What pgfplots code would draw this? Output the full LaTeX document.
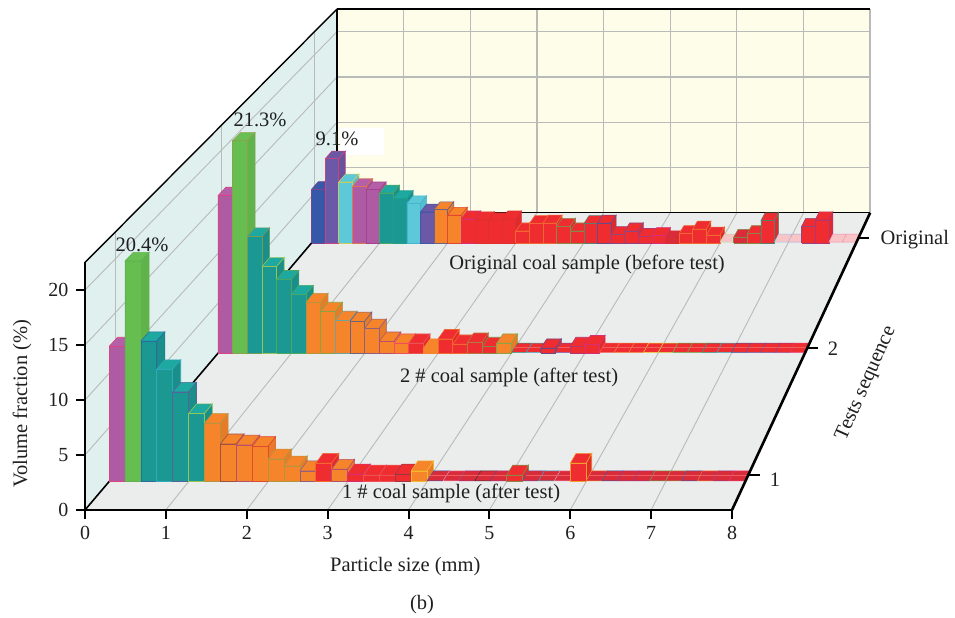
\documentclass[border=0pt]{standalone}
\usepackage{fontspec}
\setmainfont{Liberation Serif}
\usepackage{pgfplots}
\usepackage{pgfplotstable}
\pgfplotsset{compat=1.18}
% fills
\definecolor{cM}{HTML}{AE5BA3}\definecolor{cMTop}{HTML}{B45FA8}
\definecolor{cG}{HTML}{66BD50}\definecolor{cGTop}{HTML}{69BF53}
\definecolor{cT}{HTML}{1C9892}\definecolor{cTTop}{HTML}{1DA8A0}
\definecolor{cO}{HTML}{F6842B}\definecolor{cOTop}{HTML}{F6842B}
\definecolor{cR}{HTML}{EF2D30}\definecolor{cRTop}{HTML}{EF2D30}
\definecolor{cB}{HTML}{3559A8}\definecolor{cBTop}{HTML}{3559A8}
\definecolor{cP}{HTML}{6B58A6}\definecolor{cPTop}{HTML}{6B58A6}
\definecolor{cC}{HTML}{5DC8D8}\definecolor{cCTop}{HTML}{5DC8D8}
\definecolor{cD}{HTML}{DA2B3A}\definecolor{cDTop}{HTML}{DA2B3A}
\definecolor{cL}{HTML}{F8C4C6}\definecolor{cLTop}{HTML}{F8C4C6}
% edges
\definecolor{ePk}{HTML}{EE3A70}\definecolor{eGn}{HTML}{5FAF4E}
\definecolor{eOl}{HTML}{9A9A45}\definecolor{eBl}{HTML}{3456A6}
\definecolor{eCy}{HTML}{35B0C8}\definecolor{ePu}{HTML}{6A4FA0}
\definecolor{eYl}{HTML}{F0D030}\definecolor{eLm}{HTML}{C8D840}
\definecolor{eOr}{HTML}{F08030}\definecolor{eRd}{HTML}{D8302F}
\definecolor{eBr}{HTML}{7A3B50}\definecolor{ePl}{HTML}{9A3A8A}
\definecolor{eMg}{HTML}{D0308F}\definecolor{eBk}{HTML}{40303A}
\definecolor{eTe}{HTML}{1FA08A}\definecolor{eLr}{HTML}{EE6060}
\definecolor{ePg}{HTML}{B8DDA0}\definecolor{ePb}{HTML}{9CC8EE}
\definecolor{ePp}{HTML}{A8A8E0}\definecolor{ePn}{HTML}{F090B0}
% walls
\definecolor{wallL}{HTML}{DFF0EF}
\definecolor{wallB}{HTML}{FEFDE9}
\definecolor{floorC}{HTML}{EBECEC}
\definecolor{gridC}{HTML}{B9BBB9}

\pgfplotstableread{
x v f e
0.0 12.5 cM ePk
0.2 20.4 cG eGn
0.4 13.0 cT eBl
0.6 10.4 cT eCy
0.8 8.3 cT ePu
1.0 6.3 cT eLm
1.2 5.4 cO eOl
1.4 3.5 cO eBr
1.6 3.4 cO ePl
1.8 3.25 cO eRd
2.0 2.1 cO eOl
2.2 1.45 cO eOl
2.4 1.0 cO ePu
2.6 1.7 cR eOr
2.8 1.15 cO ePl
3.0 0.7 cR eMg
3.2 0.6 cR eLr
3.4 0.6 cR eLr
3.6 0.7 cR eBr
3.8 1.0 cO eYl
4.0 0.08 cD eBl
4.2 0.08 cD ePn
4.4 0.08 cD ePl
4.6 0.08 cD eBk
4.8 0.08 cD ePl
5.0 0.6 cR eGn
5.2 0.08 cD ePu
5.4 0.08 cD eCy
5.6 0.08 cD ePn
5.8 1.7 cR eYl
6.0 0.08 cD eOr
6.2 0.08 cD eBl
6.4 0.08 cD ePl
6.6 0.08 cD ePl
6.8 0.08 cD eGn
7.0 0.08 cD eOl
7.2 0.08 cD eBl
7.4 0.08 cD eOr
7.6 0.08 cD ePl
7.8 0.08 cD ePk
}\seriesA

\pgfplotstableread{
x v f e
0.0 15.8 cM ePk
0.2 21.3 cG eOl
0.4 11.7 cT eOl
0.6 8.7 cT eLm
0.8 7.4 cT eGn
1.0 5.9 cT eGn
1.2 5.1 cO eOl
1.4 4.2 cO eGn
1.6 3.3 cO eCy
1.8 3.2 cO eBl
2.0 2.5 cO ePu
2.2 1.2 cO ePl
2.4 1.0 cO ePk
2.6 1.0 cR eLr
2.8 0.5 cO cO
3.0 1.45 cR eOr
3.2 0.9 cR eOr
3.4 1.1 cR eOl
3.6 0.67 cR eGn
3.8 1.0 cO eGn
4.0 0.08 cR eTe
4.2 0.08 cR eCy
4.4 0.5 cR eBl
4.6 0.08 cR ePu
4.8 0.67 cR ePl
5.0 0.85 cR eMg
5.2 0.08 cR eLr
5.4 0.08 cR eOr
5.6 0.08 cR eOr
5.8 0.08 cR eYl
6.0 0.08 cR eLm
6.2 0.08 cR eGn
6.4 0.08 cR eGn
6.6 0.08 cR eTe
6.8 0.08 cR eCy
7.0 0.08 cR eBl
7.2 0.08 cR ePu
7.4 0.08 cR ePu
7.6 0.08 cR ePl
7.8 0.08 cR ePk
}\seriesB

\pgfplotstableread{
x v f e
0.0 5.8 cB ePl
0.2 9.1 cP ePk
0.4 6.6 cC eYl
0.6 6.1 cM eOr
0.8 5.75 cM ePl
1.0 5.4 cT eGn
1.2 4.8 cT eTe
1.4 4.25 cC eCy
1.6 3.35 cP eBl
1.8 3.6 cO eBl
2.0 3.0 cO eRd
2.2 2.6 cR eMg
2.4 2.5 cR eRd
2.6 2.4 cR eRd
2.8 2.6 cR eRd
3.0 1.3 cR eOr
3.2 2.1 cR eOr
3.4 2.15 cR eOr
3.6 1.8 cR eGn
3.8 1.3 cR eGn
4.0 2.1 cR eTe
4.2 2.15 cR eBl
4.4 0.9 cR ePu
4.6 1.3 cR ePu
4.8 0.7 cR ePl
5.0 0.8 cR eMg
5.2 0.45 cD eRd
5.4 1.0 cR eOr
5.6 1.5 cR eOr
5.8 0.85 cR eOr
6.0 0.08 cL ePg
6.2 0.6 cD eGn
6.4 1.0 cR eGn
6.6 2.4 cR eTe
6.8 0.08 cL ePb
7.0 0.08 cL ePp
7.2 1.8 cR ePu
7.4 2.5 cR ePl
7.6 0.08 cL ePn
7.8 0.08 cL ePn
}\seriesC

% perspective onto the front plane: vanishing point and depth scales
\def\Vx{17.689}\def\Vz{153.27}
\newcommand\Start{\gdef\Poly{}}
\newcommand\Pt[3]{%
  \pgfmathsetmacro\PX{\Vx+(#3)*((#1)-\Vx)}%
  \pgfmathsetmacro\PZ{\Vz+(#3)*((#2)-\Vz)}%
  \xdef\Poly{\Poly (\PX,\PZ)}}
\newcommand\Emit[1]{\edef\Tmp{\noexpand\addplot[#1] coordinates {\Poly};}\Tmp}
\newcommand\Seg[7]{\Start\Pt{#2}{#3}{#4}\Pt{#5}{#6}{#7}\Emit{#1}}

\newcommand\DrawSeries[4]{% table, front scale, back scale, flat line colour
  \pgfplotsforeachungrouped \r in {0,...,39}{%
    \pgfplotstablegetelem{\r}{x}\of{#1}\let\BX\pgfplotsretval
    \pgfplotstablegetelem{\r}{v}\of{#1}\let\BV\pgfplotsretval
    \pgfplotstablegetelem{\r}{f}\of{#1}\let\BF\pgfplotsretval
    \pgfplotstablegetelem{\r}{e}\of{#1}\let\BE\pgfplotsretval
    \pgfmathsetmacro\BXR{\BX+0.2}%
    % top
    \Start\Pt{\BX}{\BV}{#2}\Pt{\BXR}{\BV}{#2}\Pt{\BXR}{\BV}{#3}\Pt{\BX}{\BV}{#3}\Pt{\BX}{\BV}{#2}%
    \pgfmathparse{\BV<0.1?1:0}%
    \ifnum\pgfmathresult=1
      \Emit{fill=\BF Top,draw=\BE,line width=0.5pt}%
      \pgfmathsetmacro\SM{0.5*(#2+#3)}%
      \Start\Pt{\BX}{\BV}{\SM}\Pt{\BXR}{\BV}{\SM}%
      \Emit{draw=#4,line width=0.7pt}%
    \else
      \Emit{fill=\BF Top,draw=\BE!70!\BF,line width=0.6pt}%
      % side
      \Start\Pt{\BXR}{0}{#2}\Pt{\BXR}{0}{#3}\Pt{\BXR}{\BV}{#3}\Pt{\BXR}{\BV}{#2}\Pt{\BXR}{0}{#2}%
      \Emit{fill=\BF!94!black,draw=\BE!70!\BF,line width=0.6pt}%
      % front
      \Start\Pt{\BX}{0}{#2}\Pt{\BXR}{0}{#2}\Pt{\BXR}{\BV}{#2}\Pt{\BX}{\BV}{#2}\Pt{\BX}{0}{#2}%
      \Emit{fill=\BF,draw=\BE!70!\BF,line width=0.6pt}%
    \fi
  }%
}

\begin{document}
\begin{tikzpicture}
\begin{axis}[
  scale only axis, width=647pt, height=247.5pt,
  xmin=0, xmax=8, ymin=0, ymax=22.5,
  clip=false,
  axis on top,
  axis x line=bottom, axis y line=left,
  axis line style={-,line width=2.6pt,black},
  xtick={0,1,...,8}, ytick={0,5,10,15,20},
  tick style={black,line width=2pt},
  major tick length=9pt,
  tick align=outside,
  every tick label/.append style={font=\fontsize{20}{22}\selectfont,text=black!88},
  xticklabel style={yshift=-4pt},
  yticklabel style={xshift=-4pt},
  /pgf/number format/assume math mode=true,
  xlabel={Particle size (mm)},
  ylabel={Volume fraction (\%)},
  xlabel style={at={(axis cs:3.96,-5.1)},anchor=center,font=\fontsize{20.5}{22}\selectfont,text=black!88},
  ylabel style={at={(axis cs:-0.779,9.64)},anchor=center,font=\fontsize{20.5}{22}\selectfont,text=black!88},
]
% walls and floor
\Start\Pt{0}{0}{1}\Pt{0}{22.5}{1}\Pt{0}{22.5}{0.8238}\Pt{0}{0}{0.8238}\Pt{0}{0}{1}\Emit{fill=wallL,draw=none}
\Start\Pt{0}{0}{0.8238}\Pt{8}{0}{0.8238}\Pt{8}{22.5}{0.8238}\Pt{0}{22.5}{0.8238}\Pt{0}{0}{0.8238}\Emit{fill=wallB,draw=none}
\Start\Pt{0}{0}{1}\Pt{8}{0}{1}\Pt{8}{0}{0.8238}\Pt{0}{0}{0.8238}\Pt{0}{0}{1}\Emit{fill=floorC,draw=none}
% grid on the floor
\pgfplotsforeachungrouped \k in {1,...,7}{\Seg{draw=gridC,line width=0.9pt}{\k}{0}{1}{\k}{0}{0.8238}}
% grid on the back wall
\pgfplotsforeachungrouped \k in {1,...,7}{\Seg{draw=gridC,line width=1.3pt}{\k}{0}{0.8238}{\k}{22.5}{0.8238}}
\Seg{draw=gridC,line width=1.2pt}{8}{0}{0.8238}{8}{22.5}{0.8238}
\pgfplotsforeachungrouped \k in {5,10,15,20}{\Seg{draw=gridC,line width=1.3pt}{0}{\k}{0.8238}{8}{\k}{0.8238}}
% grid on the left wall
\pgfplotsforeachungrouped \k in {5,10,15,20}{\Seg{draw=gridC,line width=0.9pt}{0}{\k}{1}{0}{\k}{0.8238}}
\Seg{draw=gridC,line width=0.9pt}{0}{0}{0.979}{0}{22.5}{0.979}
\Seg{draw=gridC,line width=0.9pt}{0}{0}{0.9045}{0}{22.5}{0.9045}
\Seg{draw=gridC,line width=0.9pt}{0}{0}{0.8393}{0}{22.5}{0.8393}
% white patch behind the 9.1% label
\addplot[fill=white,draw=none] coordinates {(3.153,34.73) (3.697,34.73) (3.697,32.27) (3.153,32.27) (3.153,34.73)};
% frame lines
\Seg{draw=black,line width=1.6pt}{0}{0}{1}{0}{0}{0.8238}
\Seg{draw=black,line width=1.4pt}{0}{22.5}{1}{0}{22.5}{0.8238}
\Seg{draw=black,line width=1.2pt}{0}{22.5}{0.8238}{8}{22.5}{0.8238}
\Seg{draw=black,line width=1.2pt}{0}{0}{0.8238}{0}{22.5}{0.8238}
\Seg{draw=black,line width=1pt}{0}{0}{0.8238}{8}{0}{0.8238}
% bars
\DrawSeries{\seriesC}{0.84164}{0.83689}{cL}
\DrawSeries{\seriesB}{0.90706}{0.9015}{eLr}
\DrawSeries{\seriesA}{0.98321}{0.97728}{eLr}
% right axis and its ticks
\Seg{draw=black,line width=2.6pt}{8}{0}{1}{8}{0}{0.8238}
\Start\Pt{8}{0}{0.97924}\Pt{8.15}{0}{0.97924}\Emit{draw=black,line width=2pt}
\Start\Pt{8}{0}{0.90391}\Pt{8.15}{0}{0.90391}\Emit{draw=black,line width=2pt}
\Start\Pt{8}{0}{0.83867}\Pt{8.16}{0}{0.83867}\Emit{draw=black,line width=2pt}
% texts
\tikzset{lab/.style={font=\fontsize{20.5}{22}\selectfont,text=black!88,inner sep=0pt,anchor=center}}
\node[lab] at (axis cs:0.7046,24.09) {20.4\%};
\node[lab] at (axis cs:2.164,35.45) {21.3\%};
\node[lab] at (axis cs:3.116,33.73) {9.1\%};
\node[lab] at (axis cs:4.526,1.545) {1 \# coal sample (after test)};
\node[lab] at (axis cs:5.243,12.09) {2 \# coal sample (after test)};
\node[lab] at (axis cs:6.207,22.36) {Original coal sample (before test)};
\node[lab] at (axis cs:4.167,-8.64) {(b)};
\node[lab] at (axis cs:8.532,2.73) {1};
\node[lab] at (axis cs:9.249,14.64) {2};
\node[lab] at (axis cs:10.26,24.55) {Original};
\node[lab,rotate=66] at (axis cs:9.66,11.5) {Tests sequence};
\coordinate (A) at (axis cs:-1.051,46.36);
\coordinate (B) at (axis cs:10.757,-9.818);
\end{axis}
\path (A) rectangle (B);
\end{tikzpicture}
\end{document}
